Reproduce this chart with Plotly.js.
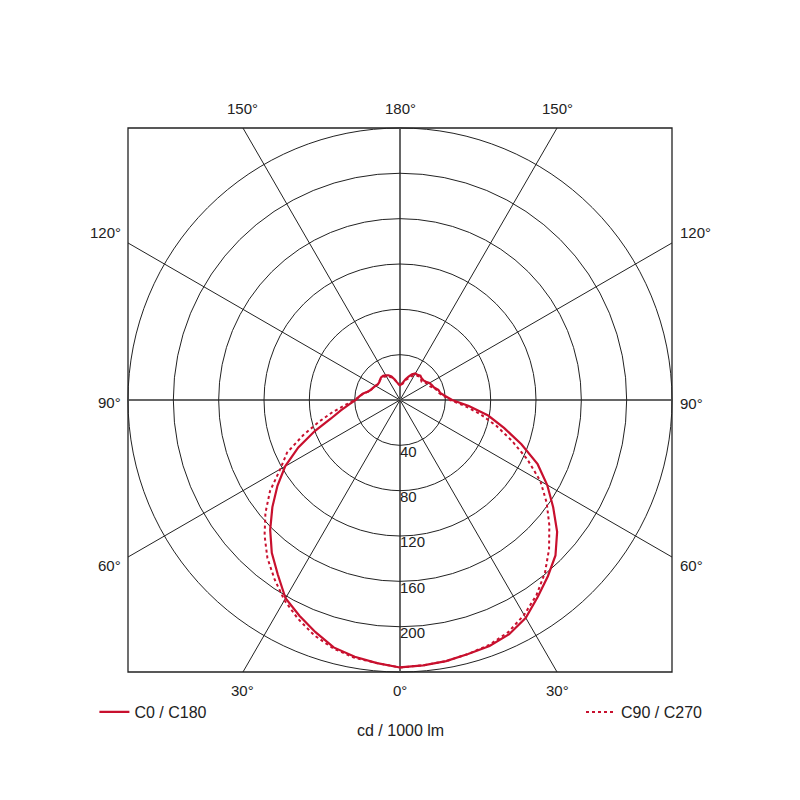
<!DOCTYPE html>
<html>
<head>
<meta charset="utf-8">
<script src="https://cdn.plot.ly/plotly-3.0.1.min.js"></script>
<style>
  html, body { margin: 0; padding: 0; background: #fff; }
  #graph { width: 800px; height: 800px; }
</style>
</head>
<body>
<div id="graph"></div>
<script>
// gamma angles (deg) and intensities (cd / 1000 lm)
var gamma = [0, 5, 10, 15, 20, 25, 30, 35, 40, 45, 50, 55, 60, 65, 70, 75, 80, 85, 90,
             95, 100, 105, 110, 115, 120, 125, 130, 135, 140, 145, 150, 155, 160, 165, 170, 175, 180];

var c0   = [236, 235, 234, 232, 231, 228, 222, 212, 203, 194, 181, 165, 150, 134, 114, 95, 79, 61, 46,
            40, 36, 35, 32, 31, 30, 28, 27, 27, 28, 27, 27, 25, 22, 19, 16, 14, 13];
var c180 = [236, 233, 230, 226, 218, 210, 202, 188, 176, 162, 147, 132, 117, 99, 80, 63, 53, 45, 39,
            36, 33, 29, 27, 26, 25, 24, 24, 25, 26, 26, 25, 24, 22, 19, 16, 14, 13];
var c90  = [236, 235, 234, 232, 230, 226, 219, 210, 199, 186, 172, 158, 143, 124, 105, 88, 72, 57, 44,
            39, 35, 34, 31, 29, 28, 27, 25, 26, 27, 26, 25, 23, 20, 18, 15, 13, 12];
var c270 = [236, 233, 231, 227, 221, 213, 204, 193, 182, 169, 155, 140, 122, 110, 91, 74, 60, 48, 40,
            36, 33, 29, 27, 26, 25, 24, 24, 25, 25, 25, 24, 23, 21, 19, 16, 14, 13];

var radialTicks = [40, 80, 120, 160, 200];
var spokes = [0, 30, 60, 90, 120, 150, 180, 210, 240, 270, 300, 330];

var red = '#c8102e';
var textFont = {family: 'Liberation Sans, Arial, sans-serif', size: 15, color: '#222'};

// right half = first plane, left half = opposite plane
function fullCurve(right, left) {
  var theta = [], r = [];
  for (var i = 0; i < gamma.length; i++) { theta.push(gamma[i]); r.push(right[i]); }
  for (var j = gamma.length - 1; j >= 0; j--) { theta.push(360 - gamma[j]); r.push(left[j]); }
  return {theta: theta, r: r};
}

var curveA = fullCurve(c0, c180);
var curveB = fullCurve(c90, c270);

var trace1 = {
  type: 'scatterpolar', mode: 'lines',
  r: curveA.r, theta: curveA.theta,
  name: 'C0 / C180',
  line: {color: red, width: 2.2},
  legend: 'legend'
};

var trace2 = {
  type: 'scatterpolar', mode: 'lines',
  r: curveB.r, theta: curveB.theta,
  name: 'C90 / C270',
  line: {color: red, width: 2, dash: 'dot'},
  legend: 'legend2'
};

var tickText = {
  type: 'scatterpolar', mode: 'text',
  r: radialTicks, theta: radialTicks.map(function () { return 0; }),
  text: radialTicks.map(String),
  textposition: 'bottom right',
  textfont: textFont,
  showlegend: false, hoverinfo: 'skip'
};

// frame / spoke geometry in paper units (polar centre 0.5, outer circle radius 0.34)
var half = 0.34;
var shapes = [{
  type: 'rect', xref: 'paper', yref: 'paper',
  x0: 0.5 - half, x1: 0.5 + half, y0: 0.5 - half, y1: 0.5 + half,
  line: {color: '#222', width: 1.3}, layer: 'below'
}];
var annotations = [];

spokes.forEach(function (a) {
  var rad = a * Math.PI / 180;
  var dx = Math.sin(rad), dy = -Math.cos(rad);
  var t = half / Math.max(Math.abs(dx), Math.abs(dy));
  var ex = 0.5 + dx * t, ey = 0.5 + dy * t;
  var main = (a % 90 === 0);
  shapes.push({
    type: 'line', xref: 'paper', yref: 'paper',
    x0: 0.5, y0: 0.5, x1: ex, y1: ey,
    line: {color: main ? '#666' : '#222', width: main ? 2 : 1},
    layer: 'below'
  });
  var label = (a <= 180 ? a : 360 - a) + '°';
  var ann = {xref: 'paper', yref: 'paper', x: ex, y: ey, text: label,
             showarrow: false, font: textFont};
  if (Math.abs(dy) > Math.abs(dx) + 1e-6) {
    ann.xanchor = 'center'; ann.yanchor = 'middle';
    ann.yshift = dy > 0 ? 19 : -18;
  } else {
    ann.yanchor = 'middle';
    if (dx < 0) { ann.xanchor = 'right'; ann.xshift = -5; }
    else { ann.xanchor = 'left'; ann.xshift = 6; }
    ann.yshift = dy > 0.01 ? 10 : (dy < -0.01 ? -8 : -3);
  }
  annotations.push(ann);
});

annotations.push({
  xref: 'paper', yref: 'paper', x: 0.5, y: 0.074,
  text: 'cd / 1000 lm', showarrow: false,
  font: {family: textFont.family, size: 16, color: '#222'}
});

var legendFont = {family: textFont.family, size: 16, color: '#222'};

var layout = {
  width: 800, height: 800,
  margin: {l: 0, r: 0, t: 0, b: 0},
  paper_bgcolor: '#fff',
  showlegend: true,
  polar: {
    domain: {x: [0.16, 0.84], y: [0.16, 0.84]},
    bgcolor: 'rgba(0,0,0,0)',
    hole: 0,
    radialaxis: {
      range: [0, 240], tickvals: radialTicks.concat([240]),
      showticklabels: false, ticks: '', showline: false,
      gridcolor: '#222', gridwidth: 1
    },
    angularaxis: {
      rotation: 270, direction: 'counterclockwise',
      showgrid: false, showticklabels: false, ticks: '',
      showline: true, linecolor: '#222', linewidth: 1
    }
  },
  legend: {
    x: 0.118, y: 0.11, xanchor: 'left', yanchor: 'middle',
    bgcolor: 'rgba(0,0,0,0)', font: legendFont
  },
  legend2: {
    x: 0.885, y: 0.11, xanchor: 'right', yanchor: 'middle',
    bgcolor: 'rgba(0,0,0,0)', font: legendFont
  },
  shapes: shapes,
  annotations: annotations
};

Plotly.newPlot('graph', [trace1, trace2, tickText], layout, {displayModeBar: false, responsive: false});
</script>
</body>
</html>
